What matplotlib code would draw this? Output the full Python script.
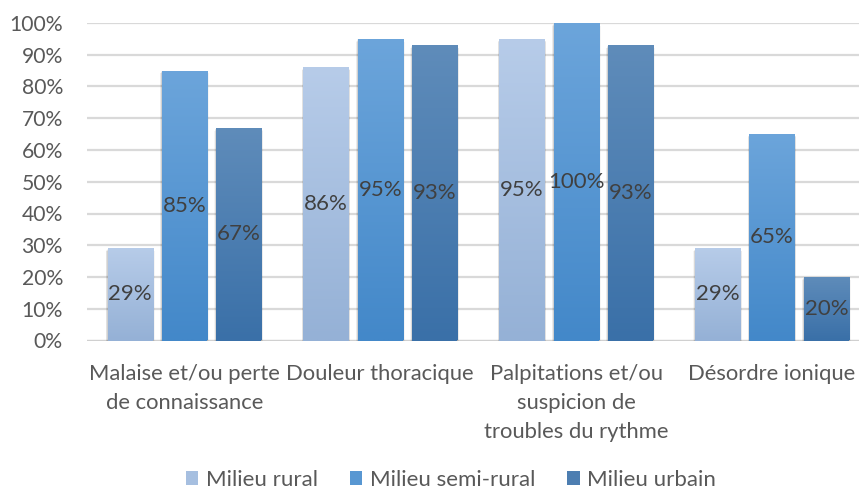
import numpy as np
import matplotlib
matplotlib.use("Agg")
import matplotlib.pyplot as plt
from matplotlib.colors import LinearSegmentedColormap, to_rgb
from matplotlib.patches import Rectangle

plt.rcParams['font.family'] = ['Lato', 'DejaVu Sans']

categories = ["Malaise et/ou perte\nde connaissance", "Douleur thoracique",
              "Palpitations et/ou\nsuspicion de\ntroubles du rythme", "Désordre ionique"]
series_names = ["Milieu rural", "Milieu semi-rural", "Milieu urbain"]
rural = [29, 86, 95, 29]
semi_rural = [85, 95, 100, 65]
urbain = [67, 93, 93, 20]
values = [rural, semi_rural, urbain]
y_ticks = [0, 10, 20, 30, 40, 50, 60, 70, 80, 90, 100]

# gradient colours (top, bottom)
grads = [("#B7CCE9", "#95B1D6"), ("#6CA5DB", "#4388C9"), ("#5F8CBA", "#3A70A8")]

W, H = 859, 492
fig = plt.figure(figsize=(W / 100, H / 100), dpi=100)
left_px, right_px, top_px, bot_px = 86.5, 870, 23, 340.5
ax = fig.add_axes([left_px / W, 1 - bot_px / H, (right_px - left_px) / W, (bot_px - top_px) / H])
ax.set_xlim(-0.5, 3.5)
ax.set_ylim(0, 100)

for s in ax.spines.values():
    s.set_visible(False)
ax.set_yticks(y_ticks)
ax.set_yticklabels([f"{t}%" for t in y_ticks])
ax.yaxis.grid(True, color="#D9D9D9", linewidth=1.6)
ax.set_axisbelow(True)
ax.tick_params(axis='y', length=0, pad=17, labelsize=15.2, labelcolor="#595959")
x = np.arange(len(categories))
ax.set_xticks(x)
ax.set_xticklabels(categories, linespacing=1.55)
ax.tick_params(axis='x', length=0, pad=17, labelsize=15.8, labelcolor="#595959")
ax.axhline(0, color="#D0D0D0", linewidth=1.6, zorder=1)

bw = 0.231
step = 0.277
handles = []
for i, (vals, name, (ctop, cbot)) in enumerate(zip(values, series_names, grads)):
    pos = x + (i - 1) * step
    cmap = LinearSegmentedColormap.from_list(f"g{i}", [cbot, ctop])
    bars = ax.bar(pos, vals, width=bw, color=cbot, zorder=3, label=name)
    handles.append(Rectangle((0, 0), 1, 1,
                             facecolor=(np.array(to_rgb(ctop)) + np.array(to_rgb(cbot))) / 2))
    for b, v in zip(bars, vals):
        x0, w0, h0 = b.get_x(), b.get_width(), b.get_height()
        # soft shadow
        for k in range(1, 6):
            dx = 0.0009 * k * 2
            dy = 0.45 * k
            ax.add_patch(Rectangle((x0 - dx, -dy), w0 + 2 * dx, h0 + dy * 0.6,
                                   facecolor="#000000", alpha=0.04, linewidth=0, zorder=2))
        grad = np.linspace(0, 1, 256).reshape(-1, 1)
        im = ax.imshow(grad, extent=[x0, x0 + w0, 0, h0], origin='lower', aspect='auto',
                       cmap=cmap, zorder=3.5, interpolation='bilinear')
        im.set_clip_path(b)
        ax.text(x0 + w0 / 2, h0 / 2, f"{v}%", ha='center', va='center', fontsize=16,
                color="#404040", zorder=5)
ax.set_xlim(-0.5, 3.5)
ax.set_ylim(0, 100)

fig.legend(handles, series_names, loc='center', bbox_to_anchor=(451 / W, 1 - 480 / H),
           ncol=3, frameon=False, fontsize=16, labelcolor="#595959",
           handlelength=0.55, handleheight=0.55, handletextpad=0.35, columnspacing=1.45,
           borderaxespad=0, borderpad=0)

fig.savefig("out.png", dpi=100)
